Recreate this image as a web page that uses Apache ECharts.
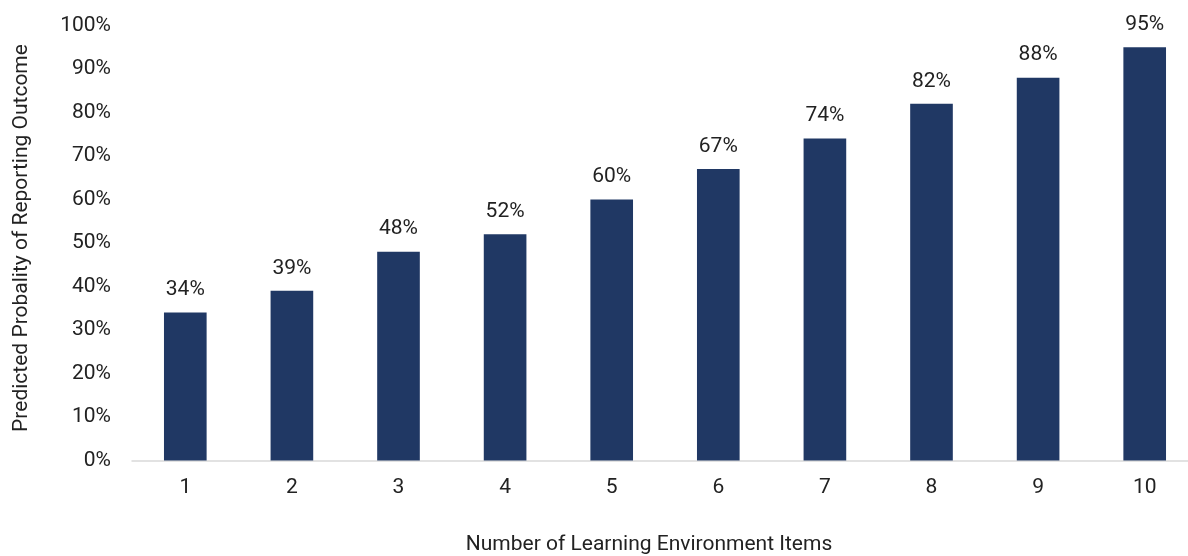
<!DOCTYPE html>
<html>
<head>
<meta charset="utf-8">
<script src="https://cdn.jsdelivr.net/npm/echarts@6/dist/echarts.min.js"></script>
<style>
  html, body { margin: 0; padding: 0; background: #fff; }
  #chart { width: 1188px; height: 556px; }
</style>
</head>
<body>
<div id="chart"></div>
<script>
// Number of learning-environment items vs. predicted probability (%)
const categories = ['1', '2', '3', '4', '5', '6', '7', '8', '9', '10'];
const probability = [34, 39, 48, 52, 60, 67, 74, 82, 88, 95];
const yTicks = [0, 10, 20, 30, 40, 50, 60, 70, 80, 90, 100];

const xTitle = 'Number of Learning Environment Items';
const yTitle = 'Predicted Probality of Reporting Outcome';

const font = 'Roboto, "Noto Sans", sans-serif';
const textColor = '#222222';
const fontSize = 21;

const chart = echarts.init(document.getElementById('chart'), null, { renderer: 'canvas' });
chart.setOption({
  animation: false,
  backgroundColor: '#ffffff',
  grid: {
    left: 132, width: 1066, top: 25.5, bottom: 95.5,
    containLabel: false,
    outerBoundsMode: 'none'
  },
  xAxis: {
    type: 'category',
    data: categories,
    axisLine: { lineStyle: { color: '#d9d9d9', width: 1.5 } },
    axisTick: { show: false },
    axisLabel: { color: textColor, fontFamily: font, fontSize: fontSize, margin: 17 }
  },
  yAxis: {
    type: 'value',
    min: yTicks[0],
    max: yTicks[yTicks.length - 1],
    interval: 10,
    splitLine: { show: false },
    axisLine: { show: false },
    axisTick: { show: false },
    axisLabel: { color: textColor, fontFamily: font, fontSize: fontSize, margin: 21, formatter: v => v + '%' }
  },
  series: [{
    type: 'bar',
    data: probability,
    barWidth: '40%',
    itemStyle: { color: '#203864' },
    label: {
      show: true,
      position: 'top',
      distance: 12,
      color: textColor,
      fontFamily: font,
      fontSize: fontSize,
      formatter: p => p.value + '%'
    }
  }],
  graphic: [
    {
      type: 'text',
      x: 649,
      y: 545,
      style: { text: xTitle, fill: textColor, font: fontSize + 'px ' + font, align: 'center', verticalAlign: 'middle' }
    },
    {
      type: 'text',
      x: 22,
      y: 238,
      rotation: Math.PI / 2,
      style: { text: yTitle, fill: textColor, font: fontSize + 'px ' + font, align: 'center', verticalAlign: 'middle' }
    }
  ]
});
</script>
</body>
</html>
